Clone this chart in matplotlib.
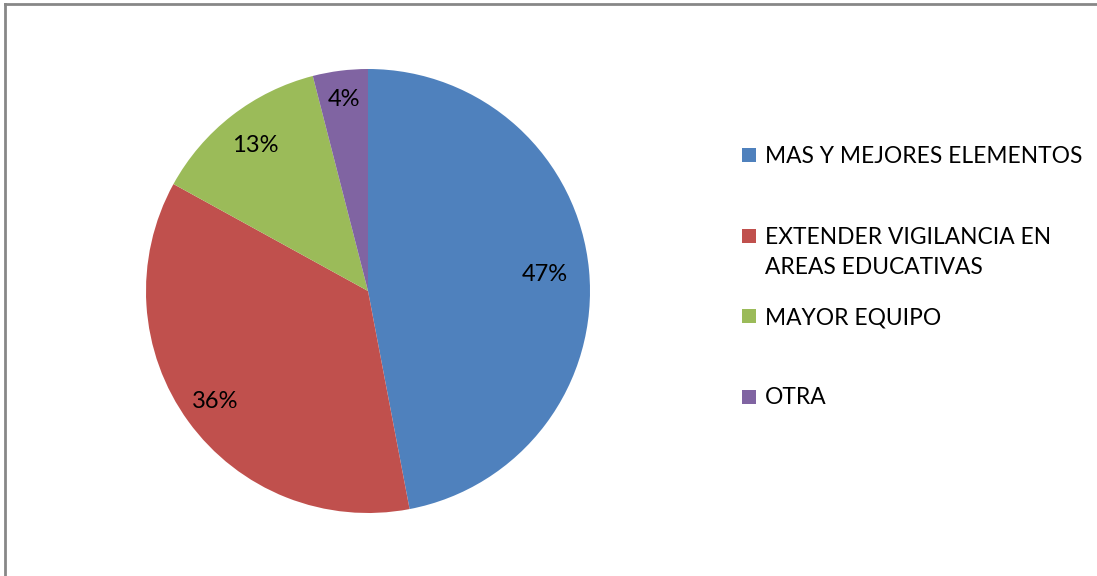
import matplotlib.pyplot as plt
from matplotlib.lines import Line2D
from matplotlib.patches import Rectangle

categories = ["MAS Y MEJORES ELEMENTOS",
              "EXTENDER VIGILANCIA EN\nAREAS EDUCATIVAS",
              "MAYOR EQUIPO",
              "OTRA"]
shares = [47, 36, 13, 4]
colors = ["#4F81BD", "#C0504D", "#9BBB59", "#8064A2"]

plt.rcParams['font.family'] = ['Lato', 'DejaVu Sans']

W, H = 1097, 576
fig = plt.figure(figsize=(W / 100, H / 100), dpi=100)

# pie centre (368, 291) px, radius 222 px
cx, cy, r = 368, 291, 222
ax = fig.add_axes([(cx - r) / W, (H - cy - r) / H, 2 * r / W, 2 * r / H])
wedges, texts, autotexts = ax.pie(
    shares, colors=colors, startangle=90, counterclock=False,
    autopct=lambda p: f"{p:.0f}%", pctdistance=1.0,
    textprops=dict(fontsize=17, color="black"))
ax.set_xlim(-1, 1)
ax.set_ylim(-1, 1)
ax.set_aspect("equal")

# excel "best fit" label distances
label_dist = [0.80, 0.85, 0.83, 0.87]
for t, d in zip(autotexts, label_dist):
    x, y = t.get_position()
    t.set_position((x * d, y * d))

# legend, drawn by hand so the square sits on the first text line
row_top, row_step, line_px = 155, 80.5, 31
for i, (cat, col) in enumerate(zip(categories, colors)):
    yc = row_top + i * row_step
    fig.add_artist(Rectangle((742 / W, 1 - (yc + 7) / H), 14 / W, 14 / H,
                             transform=fig.transFigure, facecolor=col,
                             edgecolor="none"))
    for k, line in enumerate(cat.split("\n")):
        fig.text(765 / W, 1 - (yc + 8 + k * line_px) / H, line,
                 fontsize=16.4, va="baseline", ha="left")

# chart frame: only top and left edges are visible in the crop
gray = "#878787"
fig.add_artist(Line2D([5 / W, 5 / W], [0, 1 - 4 / H], color=gray, lw=2))
fig.add_artist(Line2D([5 / W, 1], [1 - 4 / H, 1 - 4 / H], color=gray, lw=2))

fig.savefig("out.png", dpi=100)
